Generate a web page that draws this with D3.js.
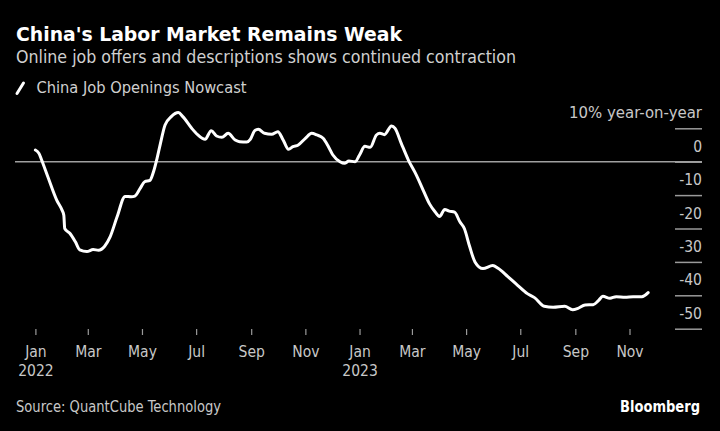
<!DOCTYPE html>
<html>
<head>
<meta charset="utf-8">
<script src="https://cdn.jsdelivr.net/npm/d3@7"></script>
<style>
  html, body { margin: 0; padding: 0; background: #000; }
  svg { display: block; }
  text { font-family: "DejaVu Sans Condensed", "DejaVu Sans", sans-serif; font-stretch: condensed; }
</style>
</head>
<body>
<svg id="chart" width="720" height="431"></svg>
<script>
// ---- Data ----
const dates = [
  "2022-01-01","2022-01-05","2022-01-08","2022-01-15","2022-01-25","2022-01-31","2022-02-02","2022-02-03",
  "2022-02-09","2022-02-15","2022-02-20","2022-02-28","2022-03-07","2022-03-13","2022-03-20","2022-03-26",
  "2022-04-03","2022-04-12","2022-04-19","2022-04-23","2022-04-29","2022-05-04","2022-05-10","2022-05-14",
  "2022-05-18","2022-05-21","2022-05-27","2022-06-03","2022-06-11","2022-06-16","2022-06-26","2022-07-03",
  "2022-07-11","2022-07-18","2022-07-24","2022-07-30","2022-08-06","2022-08-14","2022-08-19","2022-08-27",
  "2022-08-31","2022-09-05","2022-09-09","2022-09-16","2022-09-24","2022-10-01","2022-10-07","2022-10-13",
  "2022-10-18","2022-10-24","2022-11-01","2022-11-08","2022-11-14","2022-11-21","2022-11-27","2022-12-02",
  "2022-12-10","2022-12-15","2022-12-20","2022-12-27","2023-01-01","2023-01-07","2023-01-13","2023-01-20",
  "2023-01-24","2023-01-29","2023-02-06","2023-02-10","2023-02-17","2023-02-25","2023-03-06","2023-03-14",
  "2023-03-21","2023-03-27","2023-04-01","2023-04-07","2023-04-12","2023-04-18","2023-04-24","2023-04-29",
  "2023-05-05","2023-05-11","2023-05-20","2023-05-31","2023-06-06","2023-06-17","2023-06-28","2023-07-09",
  "2023-07-17","2023-07-28","2023-08-07","2023-08-20","2023-08-29","2023-09-04","2023-09-12","2023-09-21",
  "2023-09-27","2023-10-02","2023-10-10","2023-10-17","2023-10-27","2023-11-05","2023-11-15","2023-11-22"
];
const values = [
  3.5, 2.5, 0.5, -4.5, -11.5, -14.5, -16, -20,
  -21.5, -24, -26.4, -26.9, -26.3, -26.5, -25.3, -22.6,
  -16.5, -10.4, -10.5, -10.3, -8, -6, -5.6, -3,
  1, 4.5, 11, 13.5, 14.7, 13.5, 10, 8,
  6.7, 9.3, 7.7, 7.3, 8.5, 6.5, 6, 5.9,
  6.7, 9.3, 9.7, 8.5, 8.2, 9, 6.5, 3.7,
  4.5, 5, 7, 8.5, 8, 7, 4.5, 2,
  0, -0.5, 0.2, 0, 2, 4.6, 4.3, 8,
  8.5, 8.1, 10.7, 10, 5.5, 0.5, -4, -8.7,
  -12.7, -15, -16.4, -14.3, -14.8, -15.1, -18, -20,
  -25.4, -30, -32, -31.1, -31.9, -34.4, -37, -39.5,
  -40.7, -43.3, -43.6, -43.3, -44.3, -43.9, -42.9, -42.8,
  -41.6, -40.3, -40.9, -40.4, -40.6, -40.4, -40.4, -39.2
];
const xTickDates = ["2022-01-01","2022-03-01","2022-05-01","2022-07-01","2022-09-01","2022-11-01",
                    "2023-01-01","2023-03-01","2023-05-01","2023-07-01","2023-09-01","2023-11-01"];
const xTickMonths = ["Jan","Mar","May","Jul","Sep","Nov","Jan","Mar","May","Jul","Sep","Nov"];
const xTickYears = ["2022","","","","","","2023","","","","",""];
const yTicks = [10, 0, -10, -20, -30, -40, -50];
const yTickLabels = ["10% year-on-year", "0", "-10", "-20", "-30", "-40", "-50"];

const title = "China's Labor Market Remains Weak";
const subtitle = "Online job offers and descriptions shows continued contraction";
const seriesName = "China Job Openings Nowcast";
const source = "Source: QuantCube Technology";

// ---- Drawing ----
const svg = d3.select("#chart");
const parse = d3.utcParse("%Y-%m-%d");
const data = dates.map((d, i) => ({ date: parse(d), value: values[i] }));
const FONT = "\"DejaVu Sans Condensed\", \"DejaVu Sans\", sans-serif";

const x = d3.scaleUtc()
  .domain([parse("2022-01-01"), parse("2023-11-01")])
  .range([35.4, 629.5]);
const y = d3.scaleLinear().domain([10, -50]).range([128.3, 328.7]);

svg.append("rect").attr("width", 720).attr("height", 431).attr("fill", "#000");

// Title block
svg.append("text").attr("x", 16).attr("y", 41)
  .attr("fill", "#fff").attr("font-size", 19).attr("font-weight", "bold")
  .attr("textLength", 386).attr("lengthAdjust", "spacingAndGlyphs")
  .text(title);
svg.append("text").attr("x", 16).attr("y", 63)
  .attr("fill", "#d0d0d0").attr("font-size", 17)
  .attr("textLength", 500).attr("lengthAdjust", "spacingAndGlyphs")
  .text(subtitle);

// Legend
svg.append("line").attr("x1", 17).attr("y1", 93.5).attr("x2", 23.5).attr("y2", 83)
  .attr("stroke", "#fff").attr("stroke-width", 3).attr("stroke-linecap", "round");
svg.append("text").attr("x", 36.5).attr("y", 93.3)
  .attr("fill", "#d0d0d0").attr("font-size", 16)
  .attr("textLength", 210).attr("lengthAdjust", "spacingAndGlyphs")
  .text(seriesName);

// Y axis (right side)
const yAxis = d3.axisLeft(y).tickValues(yTicks).tickSize(27)
  .tickFormat((d, i) => yTickLabels[i]);
const yg = svg.append("g").attr("transform", "translate(702,0)").call(yAxis);
yg.select(".domain").remove();
yg.selectAll(".tick line").attr("stroke", "#9a9a9a").attr("stroke-width", 1.5);
yg.selectAll(".tick text")
  .attr("x", 0).attr("dy", 0).attr("y", -10.5)
  .attr("text-anchor", "end")
  .attr("fill", "#c8c8c8").attr("font-size", 15.5)
  .style("font-family", FONT)
  .each(function(d, i) {
    if (i === 0) d3.select(this).attr("textLength", 133).attr("lengthAdjust", "spacingAndGlyphs");
  });

// Zero line
svg.append("line")
  .attr("x1", 15).attr("x2", 702)
  .attr("y1", y(0)).attr("y2", y(0))
  .attr("stroke", "#a0a0a0").attr("stroke-width", 1.5);

// X axis
const xAxis = d3.axisBottom(x).tickValues(xTickDates.map(parse)).tickSize(6).tickFormat(() => "");
const xg = svg.append("g").attr("transform", "translate(0,329)").call(xAxis);
xg.select(".domain").remove();
xg.selectAll(".tick line").attr("stroke", "#9a9a9a").attr("stroke-width", 1.2);
xg.selectAll(".tick text").remove();
xg.selectAll(".tick").each(function(d, i) {
  const t = d3.select(this).append("text")
    .attr("text-anchor", "middle").attr("fill", "#c8c8c8").attr("font-size", 15.5)
    .style("font-family", FONT);
  t.append("tspan").attr("x", 0).attr("y", 28).text(xTickMonths[i]);
  if (xTickYears[i]) t.append("tspan").attr("x", 0).attr("y", 47).text(xTickYears[i]);
});

// Line
const line = d3.line()
  .x(d => x(d.date))
  .y(d => y(d.value))
  .curve(d3.curveMonotoneX);
svg.append("path").datum(data)
  .attr("d", line)
  .attr("fill", "none")
  .attr("stroke", "#fff")
  .attr("stroke-width", 3)
  .attr("stroke-linejoin", "round")
  .attr("stroke-linecap", "round");

// Footer
svg.append("text").attr("x", 16).attr("y", 412)
  .attr("fill", "#c8c8c8").attr("font-size", 15)
  .attr("textLength", 205).attr("lengthAdjust", "spacingAndGlyphs")
  .text(source);
svg.append("text").attr("x", 700).attr("y", 412)
  .attr("text-anchor", "end")
  .attr("fill", "#fff").attr("font-size", 16).attr("font-weight", "bold")
  .attr("textLength", 80).attr("lengthAdjust", "spacingAndGlyphs")
  .text("Bloomberg");
</script>
</body>
</html>
